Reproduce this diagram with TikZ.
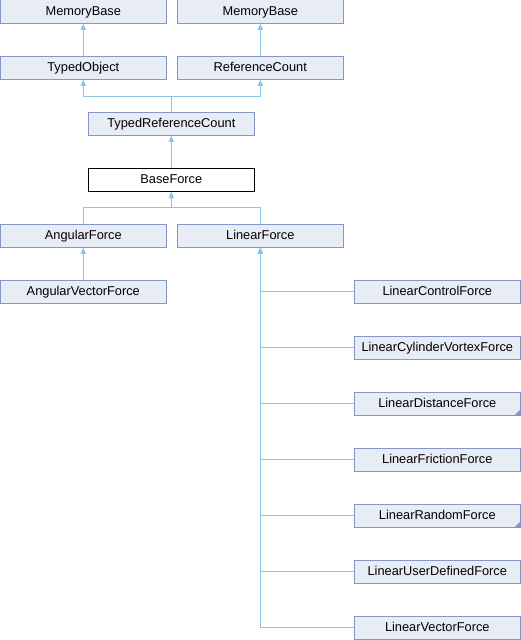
\documentclass[tikz,border=0pt]{standalone}
\usepackage{fontspec}
\setmainfont{Liberation Sans}
\usetikzlibrary{arrows.meta}
\definecolor{boxfill}{HTML}{E8ECF4}
\definecolor{boxline}{HTML}{8497C8}
\definecolor{edgecol}{HTML}{8CC4E6}
\tikzset{
  cls/.style={draw=boxline, fill=boxfill, line width=1pt, minimum width=166.3pt,
    minimum height=23.3pt, inner sep=0pt, text height=10pt, text depth=2.6pt,
    font=\fontsize{12.8}{14}\selectfont},
  cur/.style={cls, draw=black, fill=white},
  edge/.style={draw=edgecol, line width=1pt, -{Triangle[width=5pt,length=6pt]}},
  more/.style={fill=boxline, draw=none}
}
\begin{document}
\begin{tikzpicture}[x=1pt,y=-1pt]
\useasboundingbox (0,0) rectangle (521,640);
% upper hierarchy
\node[cls] (mb1) at (83.3,11.6) {MemoryBase};
\node[cls] (mb2) at (260.3,11.6) {MemoryBase};
\node[cls] (to)  at (83.3,67.7) {TypedObject};
\node[cls] (rc)  at (260.3,67.7) {ReferenceCount};
\node[cls] (trc) at (171.3,123.7) {TypedReferenceCount};
\node[cur] (bf)  at (171.3,180) {BaseForce};
\node[cls] (af)  at (83.3,235.7) {AngularForce};
\node[cls] (lf)  at (260.3,235.7) {LinearForce};
\node[cls] (avf) at (83.3,291.7) {AngularVectorForce};
% LinearForce subclasses
\node[cls] (lcf)  at (437.3,291.8) {LinearControlForce};
\node[cls] (lcvf) at (437.3,347.8) {LinearCylinderVortexForce};
\node[cls] (ldf)  at (437.3,403.8) {LinearDistanceForce};
\node[cls] (lff)  at (437.3,459.8) {LinearFrictionForce};
\node[cls] (lrf)  at (437.3,515.8) {LinearRandomForce};
\node[cls] (ludf) at (437.3,571.8) {LinearUserDefinedForce};
\node[cls] (lvf)  at (437.3,627.8) {LinearVectorForce};
% markers for classes with further subclasses
\fill[more] ([shift={(-0.5,-0.5)}]ldf.south east) -- ++(-6,0) -- ++(6,-6) -- cycle;
\fill[more] ([shift={(-0.5,-0.5)}]lrf.south east) -- ++(-6,0) -- ++(6,-6) -- cycle;
% inheritance edges
\draw[edge] (to.north) -- (mb1.south);
\draw[edge] (rc.north) -- (mb2.south);
\draw[edge] (trc.north) -- ++(0,-15.3) -| (to.south);
\draw[edge] (trc.north) -- ++(0,-15.3) -| (rc.south);
\draw[edge] (bf.north) -- (trc.south);
\draw[edge] (af.north) -- ++(0,-16) -| (bf.south);
\draw[edge] (lf.north) -- ++(0,-16) -| (bf.south);
\draw[edge] (avf.north) -- (af.south);
\foreach \n in {lcf,lcvf,ldf,lff,lrf,ludf,lvf}
  \draw[edge] (\n.west) -| (lf.south);
\end{tikzpicture}
\end{document}
